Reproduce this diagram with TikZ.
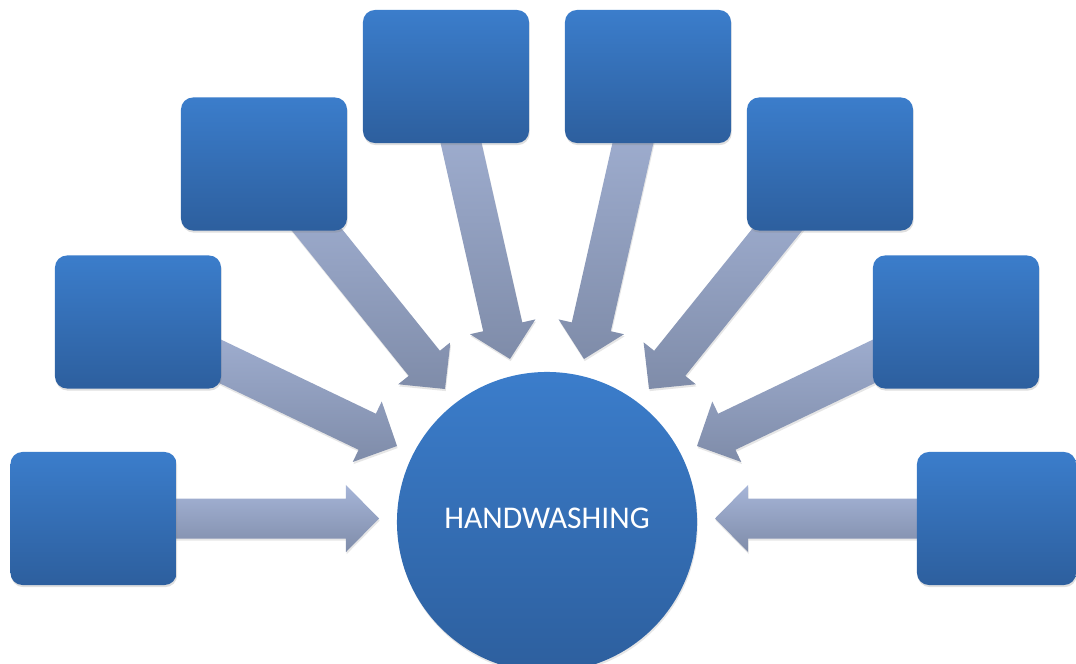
\documentclass[tikz,border=0pt]{standalone}
\usepackage{fontspec}
\setmainfont{Carlito}
\usetikzlibrary{calc,shadows,backgrounds}

\definecolor{boxtop}{HTML}{3B7DCB}
\definecolor{boxbot}{HTML}{2D5F9E}
\definecolor{feedtop}{HTML}{A6B5D8}
\definecolor{feedbot}{HTML}{7F8CA9}

\tikzset{
  topic/.style={rectangle, rounded corners=.3cm, minimum width=4.15cm, minimum height=3.325cm,
    top color=boxtop, bottom color=boxbot,
    drop shadow={opacity=.25, shadow xshift=.5pt, shadow yshift=-1.5pt}},
  hub/.style={circle, minimum size=7.5cm, top color=boxtop, bottom color=boxbot,
    text=white, font=\fontsize{22.5}{26}\selectfont, text depth=.2cm,
    drop shadow={opacity=.2, shadow xshift=.5pt, shadow yshift=-1.5pt}},
  feed/.style={top color=feedtop, bottom color=feedbot,
    drop shadow={opacity=.2, shadow xshift=.5pt, shadow yshift=-1.5pt}}
}

% block arrow from a box to a tip coordinate
\newcommand{\feedarrow}[2]{%
  \coordinate (#1h) at ($(#2)!.825cm!(#1.center)$);
  \path[feed] ($(#1.center)!.5cm!90:(#2)$) -- ($(#1h)!.5cm!90:(#2)$)
    -- ($(#1h)!.8375cm!90:(#2)$) -- (#2) -- ($(#1h)!.8375cm!-90:(#2)$)
    -- ($(#1h)!.5cm!-90:(#2)$) -- ($(#1.center)!.5cm!-90:(#2)$) -- cycle;
}

\begin{document}
\begin{tikzpicture}[x=.025cm,y=-.025cm]
  \useasboundingbox (0,0) rectangle (1076,663);
  \clip (0,0) rectangle (1076,663);

  \node[hub] (hub) at (547,522) {HANDWASHING};

  \node[topic] (box1) at (93.5,518.5) {};
  \node[topic] (box2) at (138,322) {};
  \node[topic] (box3) at (264,164) {};
  \node[topic] (box4) at (446,76.5) {};
  \node[topic] (box5) at (648,76.5) {};
  \node[topic] (box6) at (830,164) {};
  \node[topic] (box7) at (956,322) {};
  \node[topic, minimum width=3.975cm] (box8) at (996.5,518.5) {};

  \coordinate (tip1) at (379,518.5);
  \coordinate (tip2) at (397,446);
  \coordinate (tip3) at (445,389);
  \coordinate (tip4) at (510,359);
  \coordinate (tip5) at (584,359);
  \coordinate (tip6) at (649,389);
  \coordinate (tip7) at (697,446);
  \coordinate (tip8) at (715,518.5);

  \begin{pgfonlayer}{background}
    \feedarrow{box1}{tip1}
    \feedarrow{box2}{tip2}
    \feedarrow{box3}{tip3}
    \feedarrow{box4}{tip4}
    \feedarrow{box5}{tip5}
    \feedarrow{box6}{tip6}
    \feedarrow{box7}{tip7}
    \feedarrow{box8}{tip8}
  \end{pgfonlayer}
\end{tikzpicture}
\end{document}
